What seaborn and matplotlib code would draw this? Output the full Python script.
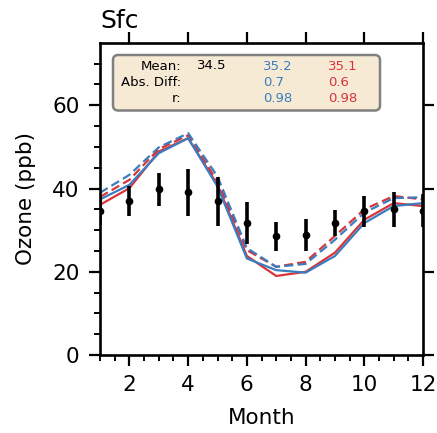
import numpy as np
import pandas as pd
import matplotlib
matplotlib.use("Agg")
import matplotlib.pyplot as plt
import seaborn as sns
from matplotlib.patches import FancyBboxPatch

months = [1, 2, 3, 4, 5, 6, 7, 8, 9, 10, 11, 12]
obs_mean = [34.7, 37.0, 39.8, 39.1, 36.9, 31.8, 28.5, 28.9, 31.8, 34.5, 35.0, 34.7]
obs_err = [3.5, 3.6, 4.0, 5.7, 5.8, 5.0, 3.4, 3.9, 3.1, 3.8, 4.2, 4.0]
blue_solid = [37.4, 40.9, 48.5, 52.1, 40.5, 23.2, 20.4, 19.8, 23.8, 31.7, 35.8, 36.5]
red_solid = [36.1, 40.1, 48.9, 52.1, 40.9, 23.8, 19.0, 20.0, 24.6, 32.5, 36.5, 35.8]
blue_dashed = [39.0, 43.3, 49.9, 53.3, 42.9, 25.7, 21.2, 21.9, 27.7, 34.2, 37.7, 37.9]
red_dashed = [38.0, 42.1, 49.5, 52.8, 41.7, 25.2, 21.2, 22.4, 28.6, 35.0, 38.2, 37.4]

stats_labels = ["Mean:", "Abs. Diff:", "r:"]
obs_stats = ["34.5", "", ""]
blue_stats = ["35.2", "0.7", "0.98"]
red_stats = ["35.1", "0.6", "0.98"]

BLUE = "#3a7dbf"
RED = "#d8343a"

sns.set_style("white")
plt.rcParams["font.family"] = ["DejaVu Sans"]
plt.rcParams["text.color"] = "black"
plt.rcParams["axes.labelcolor"] = "black"
plt.rcParams["xtick.color"] = "black"
plt.rcParams["ytick.color"] = "black"

df = pd.DataFrame({
    "Month": months * 4,
    "Ozone": blue_solid + red_solid + blue_dashed + red_dashed,
    "model": ["blue"] * 12 + ["red"] * 12 + ["blue"] * 12 + ["red"] * 12,
    "kind": ["solid"] * 24 + ["dashed"] * 24,
})

fig = plt.figure(figsize=(4.37, 4.33), dpi=100)
ax = fig.add_axes([0.229, 0.180, 0.739, 0.721])

sns.lineplot(data=df, x="Month", y="Ozone", hue="model", style="kind",
             palette={"blue": BLUE, "red": RED},
             dashes={"solid": "", "dashed": (4, 2)},
             hue_order=["red", "blue"], style_order=["solid", "dashed"],
             linewidth=1.6, legend=False, ax=ax, zorder=2)

ax.errorbar(months, obs_mean, yerr=obs_err, fmt="o", color="black",
            ecolor="black", elinewidth=2.6, markersize=4.5, capsize=0,
            zorder=5, clip_on=True)

ax.set_xlim(1, 12)
ax.set_ylim(0, 75)
ax.set_xticks([2, 4, 6, 8, 10, 12])
ax.set_yticks([0, 20, 40, 60])
ax.set_xticks(np.arange(1, 12.01, 0.5), minor=True)
ax.set_yticks(np.arange(0, 75, 5), minor=True)

for s in ax.spines.values():
    s.set_linewidth(1.9)
    s.set_color("black")

ax.tick_params(axis="both", which="major", direction="out", length=7.7,
               width=1.6, labelsize=15.5, color="black", labelcolor="black",
               pad=7, top=True, right=True, bottom=True, left=True,
               labeltop=False, labelright=False)
ax.tick_params(axis="both", which="minor", direction="out", length=4,
               width=1.4, bottom=True, left=True, top=False, right=False)

ax.set_xlabel("Month", fontsize=15.5, labelpad=9, color="black")
ax.set_ylabel("Ozone (ppb)", fontsize=15.5, labelpad=12, color="black")
ax.set_title("Sfc", loc="left", fontsize=18, pad=11, color="black")

box = FancyBboxPatch((113 / 437, 1 - 110.5 / 433), (380 - 113) / 437,
                     (110.5 - 55) / 433, boxstyle="round,pad=0,rounding_size=0.012",
                     transform=fig.transFigure, facecolor="#f6ead5",
                     edgecolor="#808080", linewidth=1.8, zorder=6)
fig.add_artist(box)

rows_y = [67, 83, 99]
for i, yy in enumerate(rows_y):
    fy = 1 - yy / 433
    fig.text(181 / 437, fy, stats_labels[i], ha="right", va="center",
             fontsize=9.5, color="black", zorder=7)
    if obs_stats[i]:
        fig.text(197 / 437, fy + 0.004, obs_stats[i], ha="left", va="center",
                 fontsize=9.5, color="black", zorder=7)
    fig.text(263 / 437, fy, blue_stats[i], ha="left", va="center",
             fontsize=9.5, color=BLUE, zorder=7)
    fig.text(328 / 437, fy, red_stats[i], ha="left", va="center",
             fontsize=9.5, color=RED, zorder=7)

fig.savefig("out.png", dpi=100)
